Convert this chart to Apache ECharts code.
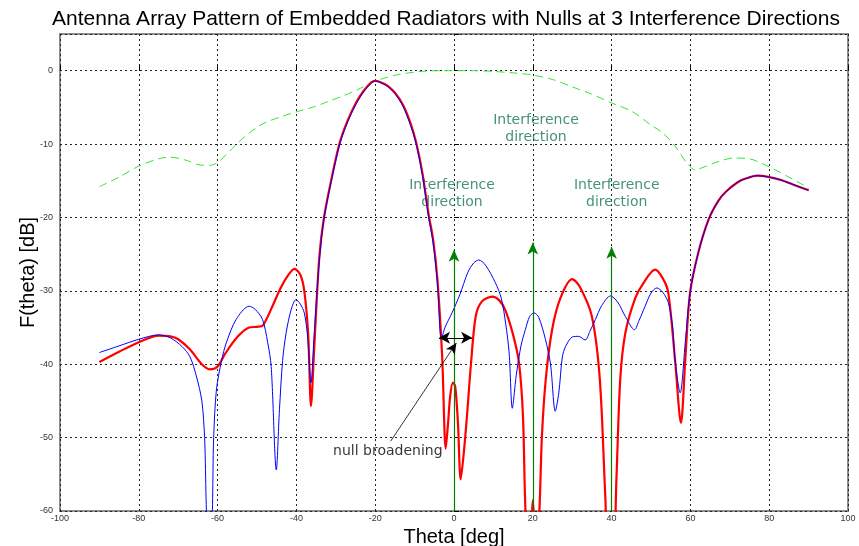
<!DOCTYPE html>
<html>
<head>
<meta charset="utf-8">
<script src="https://cdn.jsdelivr.net/npm/echarts@6/dist/echarts.min.js"></script>
<style>
  html, body { margin: 0; padding: 0; background: #fff; }
  #main { width: 859px; height: 546px; }
</style>
</head>
<body>
<div id="main"></div>
<script>
// pattern with null broadening (red)
var redTheta = [-90,-85,-80,-75,-72,-70,-67,-64,-62,-60,-58,-55,-52,-50,-48.5,-46,-44,-42,-40.5,-39,-38,-37,-36.3,-35.5,
  -34.2,-33,-31,-29,-27,-25,-23,-21,-20,-19,-17,-15,-13,-11,-9.6,-8,-6.5,-5.3,-4.2,-3,-2.1,-1.5,-1,-0.3,0.3,1,1.7,2.5,3.3,4.3,5.5,7,9.7,
  11.5,13,15,16.5,17.5,18.3,19.3,20,20.7,21.5,22.3,23.3,24.9,27,30,32,35,37,38.4,39.2,40.4,41.2,42.2,43.5,46,48,51,53,54.4,56.1,57.6,58.7,59.9,
  62,64.6,67,69,72,74,77,80,83,86,90];
var redDb = [-39.7,-38.3,-37.0,-36.1,-36.2,-36.6,-38.0,-40.0,-40.7,-40.3,-38.5,-36.3,-35.0,-34.9,-34.7,-32.0,-29.6,-27.8,-27.0,-27.8,-30,-36,-45.7,-38,
  -25.5,-20,-14.5,-9.8,-6.8,-4.5,-2.8,-1.6,-1.4,-1.5,-2.0,-3.0,-4.6,-7.2,-9.8,-14,-19.4,-23,-28.5,-39,-51.5,-48,-44.5,-42.5,-43,-48,-55.7,-52,-47,-40,-33.5,-31.5,-30.8,
  -31.3,-32.6,-36,-39.8,-47,-62,-64,-58.5,-64,-62,-50,-42,-35.3,-31,-28.4,-29.5,-33.5,-42,-58,-66,-66,-56,-42,-35.7,-31,-29,-27.1,-28.3,-30.3,-39.4,-48,-39.4,-30.3,
  -24.8,-20.3,-17.8,-16.5,-15.2,-14.7,-14.3,-14.5,-14.9,-15.5,-16.3];

// conventional nulls (blue)
var blueTheta = [-90,-85,-80,-75,-72,-69,-67,-65.4,-64,-63.3,-62.5,-61.6,-61,-60.3,-59,-57.8,-55.3,-52,-50.5,-48.6,-47.3,-46.4,-45.1,-44.3,-43.5,-42.6,-41.3,-40.1,-39,-38,-37.2,-36.3,-35.5,
  -34.2,-33,-31,-29,-27,-25,-23,-21,-20,-19,-17,-15,-13,-11,-9.6,-8,-6.5,-5.3,-4.2,-3.2,-2.3,-0.5,1.5,3.5,5,6.3,8,10.5,12,13.1,14,14.8,15.8,17,18.1,19.2,20.3,21.5,23.2,24.5,25.7,26.6,27.5,28.3,30,31.6,33.3,34.5,35.9,37.5,39.7,41.5,43.5,45.8,47,48.5,50,51.5,53,54.4,55.5,56.1,57.4,58.7,59.9,
  62,64.6,67,69,72,74,77,80,83,86,90];
var blueDb = [-38.4,-37.5,-36.6,-36.0,-36.4,-37.6,-39,-41.6,-45,-50,-62,-62,-50,-43.5,-39.5,-37.1,-33.9,-32.1,-32.5,-33.9,-37,-40.3,-54.4,-46.2,-39.5,-35.7,-32.5,-31.2,-31.8,-33,-36,-42.5,-36,
  -26,-20.2,-14.7,-10,-7,-4.7,-2.9,-1.7,-1.4,-1.5,-2.1,-3.1,-4.8,-7.5,-10,-14.3,-19.8,-23.5,-29,-36.6,-35,-33,-30.5,-27.5,-26.2,-25.8,-26.5,-28.9,-31,-34.4,-38.5,-46,-41.5,-37.5,-35.3,-33.5,-33,-33.6,-36.6,-40,-46.4,-43.9,-39,-37.6,-36.3,-36.2,-36.7,-35.5,-33.9,-32,-30.7,-31.5,-33.5,-35.3,-34,-32.1,-30.3,-29.6,-30.2,-31.6,-35,-39.4,-43.9,-37,-30.3,
  -24.8,-20.3,-17.8,-16.5,-15.2,-14.7,-14.3,-14.5,-14.9,-15.5,-16.3];

// element pattern envelope (green dashed)
var envTheta = [-90,-85,-80,-75,-72,-68,-65,-62,-60,-57,-54,-50,-47.6,-44,-40,-36,-32.4,-28,-25.8,-23,-20.3,-17,-13.9,-10,-7,-3,5,10,15,20,25,30,35,40,45,50,53,56,59,61.2,64,67,71,75,78,81.5,85,89.4,90];
var envDb = [-15.8,-14.5,-13.0,-12.0,-11.8,-12.2,-12.8,-12.9,-12.5,-11.0,-9.4,-7.7,-7.0,-6.3,-5.6,-5.0,-4.3,-3.4,-2.9,-2.2,-1.5,-0.9,-0.5,-0.2,-0.05,0,0,-0.1,-0.3,-0.6,-1.2,-2.2,-3.2,-4.4,-5.5,-7.4,-8.5,-10.2,-12.5,-13.5,-13.0,-12.4,-11.9,-12.0,-12.6,-13.5,-14.5,-15.8,-16.0];

// interference directions and arrow tips
var interfTheta = [0, 20, 40];
var interfTop = [-24.4, -23.4, -24.0];
var interfLabelTheta = [-0.5, 20.8, 41.3];
var interfLabelDb = [-16.8, -7.9, -16.8];

// null broadening annotation
var broadFrom = [-3.8, -36.4];
var broadTo = [4.6, -36.4];
var pointerFrom = [-16.1, -50.5];
var pointerTo = [0.6, -37.1];
var noteNull = [-16.8, -51.9];

function pairs(xs, ys) {
  return xs.map(function (x, i) { return [x, ys[i]]; });
}

var arrowLines = interfTheta.map(function (t, i) {
  return [{ coord: [t, -60] }, { coord: [t, interfTop[i]] }];
});

var notes = interfTheta.map(function (t, i) {
  return { value: [interfLabelTheta[i], interfLabelDb[i]], text: 'Interference\ndirection', color: '#17784f' };
});
notes.push({ value: noteNull, text: 'null broadening', color: '#000' });

var myChart = echarts.init(document.getElementById('main'));

var option = {
  animation: false,
  backgroundColor: '#fff',
  title: {
    text: 'Antenna Array Pattern of Embedded Radiators with Nulls at 3 Interference Directions',
    left: 441,
    textAlign: 'center',
    top: 4,
    textStyle: { fontFamily: 'Liberation Sans, Arial', fontSize: 21, fontWeight: 'normal', color: '#000' }
  },
  grid: {
    left: 60, right: 11, top: 34, bottom: 35,
    outerBoundsMode: 'none',
    show: true, borderColor: '#8c8c8c', borderWidth: 2
  },
  xAxis: {
    type: 'value', min: -100, max: 100, interval: 20,
    name: 'Theta [deg]', nameLocation: 'middle', nameGap: 15,
    nameTextStyle: { fontFamily: 'Liberation Sans, Arial', fontSize: 20, color: '#000' },
    axisLine: { show: false },
    axisTick: { inside: true, length: 5, lineStyle: { color: '#000' } },
    axisLabel: { fontSize: 9, color: '#333', margin: 3, fontFamily: 'Liberation Sans, Arial' },
    splitLine: { lineStyle: { color: '#222', type: [2, 3], width: 1 } }
  },
  yAxis: {
    type: 'value', min: -60, max: 5, interval: 10,
    name: 'F(theta) [dB]', nameLocation: 'middle', nameGap: 22,
    nameMoveOverlap: false,
    nameTextStyle: { fontFamily: 'Liberation Sans, Arial', fontSize: 20, color: '#000' },
    axisLine: { show: false },
    axisTick: { inside: true, length: 5, lineStyle: { color: '#000' } },
    axisLabel: {
      fontSize: 9, color: '#333', margin: 7, fontFamily: 'Liberation Sans, Arial',
      formatter: function (v) { return v > 0 ? '' : String(v); }
    },
    splitLine: { lineStyle: { color: '#222', type: [2, 3], width: 1 } }
  },
  series: [
    {
      name: 'envelope', type: 'line', data: pairs(envTheta, envDb),
      symbol: 'none', smooth: 0.3, silent: true,
      lineStyle: { color: '#33e833', width: 1, type: [8, 5] }
    },
    {
      name: 'broadened', type: 'line', data: pairs(redTheta, redDb),
      symbol: 'none', smooth: 0.3, silent: true, clip: true,
      lineStyle: { color: '#ff0000', width: 2.2 }
    },
    {
      name: 'conventional', type: 'line', data: pairs(blueTheta, blueDb),
      symbol: 'none', smooth: 0.3, silent: true, clip: true,
      lineStyle: { color: '#0000ff', width: 1 }
    },
    {
      name: 'arrows', type: 'line', data: [], silent: true,
      markLine: {
        silent: true, animation: false,
        symbol: ['none', 'arrow'], symbolSize: [8, 12],
        label: { show: false },
        lineStyle: { color: '#008000', width: 1.2, type: 'solid' },
        data: arrowLines
      }
    },
    {
      name: 'broadArrow', type: 'line', data: [], silent: true,
      markLine: {
        silent: true, animation: false,
        symbol: ['arrow', 'arrow'], symbolSize: [9, 11],
        label: { show: false },
        lineStyle: { color: '#000', width: 1.2, type: 'solid' },
        data: [[{ coord: broadFrom }, { coord: broadTo }]]
      }
    },
    {
      name: 'pointer', type: 'line', data: [], silent: true,
      markLine: {
        silent: true, animation: false,
        symbol: ['none', 'arrow'], symbolSize: [8, 11],
        label: { show: false },
        lineStyle: { color: '#000', width: 0.8, type: 'solid' },
        data: [[{ coord: pointerFrom }, { coord: pointerTo }]]
      }
    },
    {
      name: 'notes', type: 'scatter', symbolSize: 0, silent: true,
      data: notes.map(function (n) {
        return { value: n.value, text: n.text, label: { color: n.color } };
      }),
      label: {
        show: true, position: 'inside',
        fontFamily: 'DejaVu Sans', fontSize: 14, lineHeight: 17,
        textBorderWidth: 0,
        formatter: function (p) { return p.data.text; }
      },
      labelLayout: { hideOverlap: false }
    }
  ]
};

myChart.setOption(option);
</script>
</body>
</html>
